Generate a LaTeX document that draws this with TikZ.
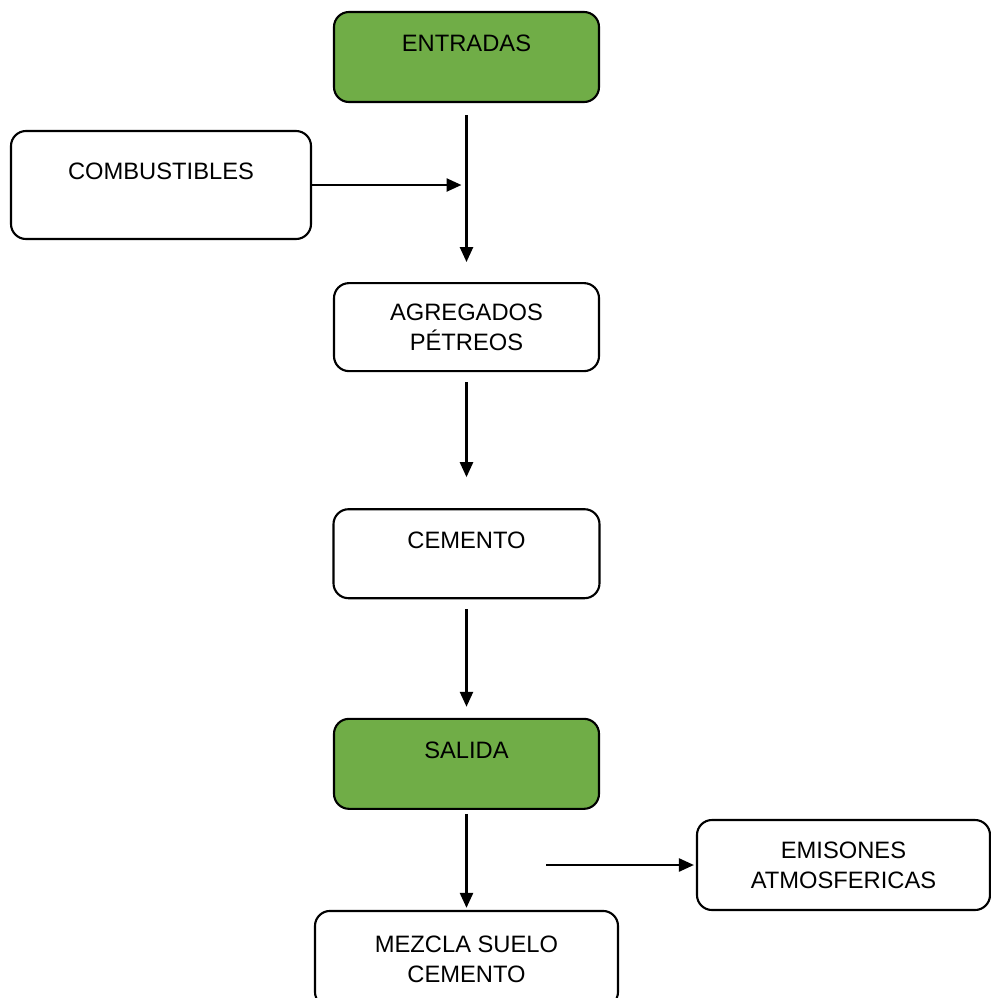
\documentclass[tikz,border=0pt]{standalone}
\usepackage{fontspec}
\setmainfont{Liberation Sans}
\usepackage{xcolor}
\usepackage{tikz}
\usetikzlibrary{arrows.meta, positioning}
\definecolor{stagegreen}{HTML}{70AD47}

\begin{document}
\begin{tikzpicture}[
  every node/.style={font=\fontsize{13.5pt}{17pt}\selectfont},
  flowbox/.style={rectangle, rounded corners=3mm, draw=black,
                  line width=1.2pt, minimum width=5.3cm,
                  minimum height=1.8cm, align=center, inner sep=0pt},
  topline/.style={text height=3.4mm, text depth=5.6mm},
  stage/.style={flowbox, topline, fill=stagegreen},
  arr/.style={-{Triangle[length=0.3cm, width=0.26cm]}, line width=1.4pt},
]
  \useasboundingbox (0,0) rectangle (19.82,-19.96);

  \node[stage] (entradas) at (9.33,-1.14) {ENTRADAS};
  \node[flowbox, below=3.58cm of entradas, minimum height=1.76cm] (agregados)
        {AGREGADOS\\PÉTREOS};
  \node[flowbox, topline, below=2.72cm of agregados, minimum width=5.32cm,
        minimum height=1.78cm] (cemento) {CEMENTO};
  \node[stage, below=2.37cm of cemento] (salida) {SALIDA};
  \node[flowbox, below=2cm of salida, minimum width=6.06cm,
        minimum height=1.92cm] (mezcla) {MEZCLA SUELO\\CEMENTO};

  % side boxes
  \node[flowbox, topline, minimum width=6cm, minimum height=2.16cm]
        (combustibles) at (3.22,-3.7) {COMBUSTIBLES};
  \node[flowbox, minimum width=5.86cm] (emisiones) at (16.87,-17.3)
        {EMISONES\\ATMOSFERICAS};

  % main flow
  \foreach \a/\b/\s/\e in {entradas/agregados/0.24/0.4,
                           agregados/cemento/0.2/0.62,
                           cemento/salida/0.2/0.22,
                           salida/mezcla/0.08/0.04}
    \draw[arr, shorten <=\s cm, shorten >=\e cm] (\a) -- (\b);

  % fuel feed
  \coordinate (feed) at (entradas.south |- combustibles.east);
  \draw[arr, shorten >=0.1cm] (combustibles.east) -- (feed);

  % emissions
  \coordinate (emisfrom) at (10.92,-17.3);
  \draw[arr, shorten >=0.04cm] (emisfrom) -- (emisiones.west);

\end{tikzpicture}
\end{document}
